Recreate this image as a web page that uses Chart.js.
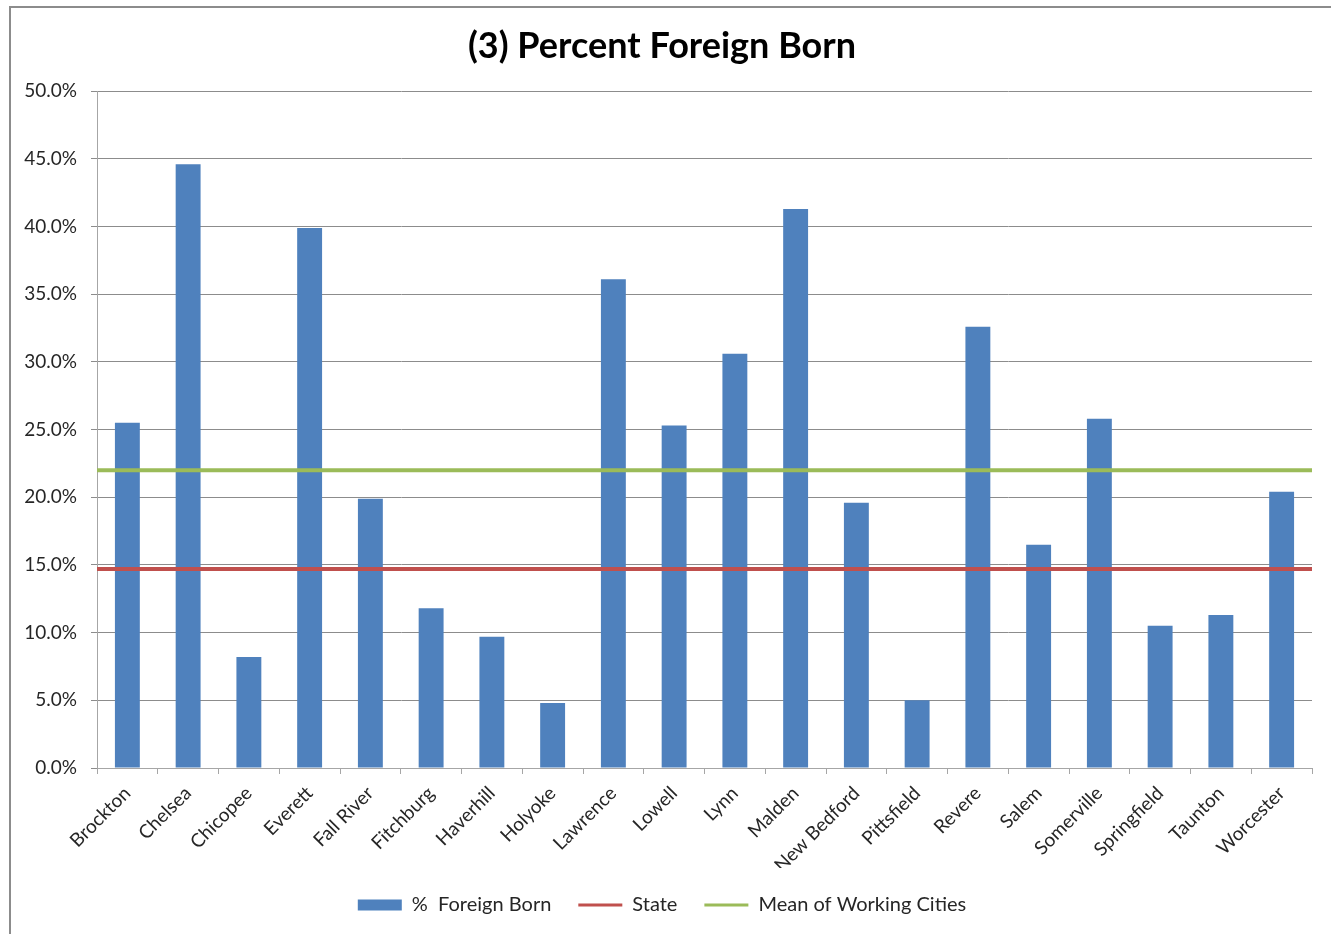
<!DOCTYPE html>
<html>
<head>
<meta charset="utf-8">
<script src="https://cdn.jsdelivr.net/npm/chart.js@4"></script>
<style>
  html, body { margin: 0; padding: 0; background: #fff; overflow: hidden; }
  #wrap { position: relative; width: 1331px; height: 934px; }
  #frame { position: absolute; left: 9px; top: 6px; width: 1400px; height: 1000px;
           border-left: 2px solid #8c8c8c; border-top: 2px solid #8c8c8c; }
  #chartBox { position: absolute; left: 0; top: 0; width: 1331px; height: 934px; }
</style>
</head>
<body>
<div id="wrap">
  <div id="frame"></div>
  <div id="chartBox"><canvas id="foreign"></canvas></div>
</div>
<script>
const cities = ['Brockton', 'Chelsea', 'Chicopee', 'Everett', 'Fall River', 'Fitchburg', 'Haverhill',
  'Holyoke', 'Lawrence', 'Lowell', 'Lynn', 'Malden', 'New Bedford', 'Pittsfield', 'Revere', 'Salem',
  'Somerville', 'Springfield', 'Taunton', 'Worcester'];
const foreignBorn = [25.5, 44.6, 8.2, 39.9, 19.9, 11.8, 9.7, 4.8, 36.1, 25.3,
  30.6, 41.3, 19.6, 5.0, 32.6, 16.5, 25.8, 10.5, 11.3, 20.4];
const stateValue = 14.7;
const meanValue = 22.0;
const yTicks = [0, 5, 10, 15, 20, 25, 30, 35, 40, 45, 50];

// flat reference lines run across the whole plot on a hidden linear axis
const span = [0, cities.length];
const stateLine = span.map(x => ({ x: x, y: stateValue }));
const meanLine = span.map(x => ({ x: x, y: meanValue }));

const textColor = '#262626';
const fontFamily = 'Lato, "Open Sans", sans-serif';

const ctx = document.getElementById('foreign').getContext('2d');
const chart = new Chart(ctx, {
  type: 'bar',
  data: {
    labels: cities,
    datasets: [
      {
        label: '%  Foreign Born',
        data: foreignBorn,
        backgroundColor: '#4f81bd',
        borderColor: '#4f81bd',
        borderWidth: 0,
        grouped: false,
        barPercentage: 0.41,
        categoryPercentage: 1.0,
        xAxisID: 'x',
        order: 3
      },
      {
        type: 'line',
        label: 'State',
        data: stateLine,
        borderColor: '#c0504d',
        backgroundColor: '#c0504d',
        borderWidth: 4,
        pointRadius: 0,
        xAxisID: 'x2',
        order: 2
      },
      {
        type: 'line',
        label: 'Mean of Working Cities',
        data: meanLine,
        borderColor: '#9bbb59',
        backgroundColor: '#9bbb59',
        borderWidth: 4,
        pointRadius: 0,
        xAxisID: 'x2',
        order: 1
      }
    ]
  },
  options: {
    responsive: true,
    maintainAspectRatio: false,
    animation: false,
    layout: { padding: { left: 12, right: 19, top: 0, bottom: 9 } },
    plugins: {
      title: {
        display: true,
        text: '(3) Percent Foreign Born',
        color: '#000',
        font: { family: fontFamily, size: 36, weight: 'bold' },
        padding: { top: 25, bottom: 23 }
      },
      legend: {
        position: 'bottom',
        labels: {
          color: textColor,
          font: { family: fontFamily, size: 20 },
          usePointStyle: true,
          pointStyleWidth: 44,
          boxHeight: 11,
          padding: 27,
          sort: (a, b) => a.datasetIndex - b.datasetIndex,
          generateLabels: function (c) {
            const items = Chart.defaults.plugins.legend.labels.generateLabels(c);
            items.forEach(it => {
              const ds = c.data.datasets[it.datasetIndex];
              if (it.datasetIndex === 0) {
                it.pointStyle = 'rect';
                it.lineWidth = 0;
                it.fillStyle = ds.backgroundColor;
              } else {
                it.pointStyle = 'line';
                it.lineWidth = 3;
                it.strokeStyle = ds.borderColor;
              }
            });
            return items;
          }
        }
      },
      tooltip: { enabled: false }
    },
    scales: {
      x: {
        offset: true,
        grid: { display: true, offset: true, drawOnChartArea: false, drawTicks: true, tickLength: 6, color: '#a6a6a6' },
        border: { color: '#a6a6a6' },
        ticks: {
          color: textColor,
          font: { family: fontFamily, size: 19 },
          maxRotation: 45,
          minRotation: 45,
          padding: 8,
          autoSkip: false
        },
        afterFit: function (axis) { axis.height = 100; }
      },
      x2: {
        type: 'linear',
        display: false,
        offset: false,
        min: 0,
        max: cities.length
      },
      y: {
        min: 0,
        max: 50,
        afterBuildTicks: function (axis) { axis.ticks = yTicks.map(v => ({ value: v })); },
        afterFit: function (axis) { axis.width = 85; },
        grid: { color: '#8c8c8c', tickLength: 6 },
        border: { color: '#a6a6a6' },
        ticks: {
          color: textColor,
          font: { family: fontFamily, size: 19 },
          padding: 14,
          callback: function (v) { return v.toFixed(1) + '%'; }
        }
      }
    }
  }
});
</script>
</body>
</html>
